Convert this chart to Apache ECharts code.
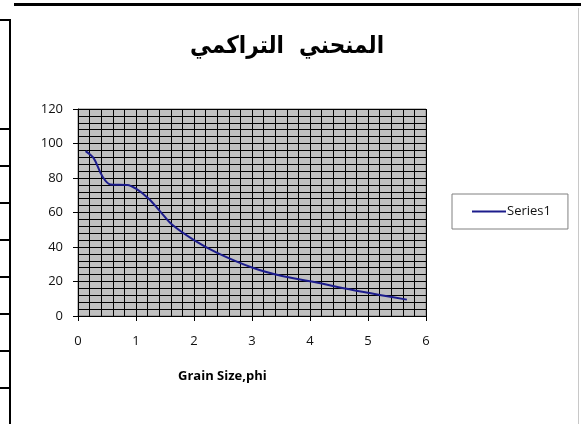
<!DOCTYPE html>
<html>
<head>
<meta charset="utf-8">
<script src="https://cdn.jsdelivr.net/npm/echarts@6/dist/echarts.min.js"></script>
<style>
  html, body { margin: 0; padding: 0; background: #fff; }
  #chart { width: 581px; height: 424px; }
</style>
</head>
<body>
<div id="chart"></div>
<script>
// Cumulative curve: grain size (phi) vs cumulative percent
const phi = [0.13, 0.27, 0.42, 0.56, 0.85, 1.0, 1.22, 1.42, 1.62, 2.0, 2.4, 3.0, 3.5, 4.0, 4.9, 5.67];
const cumulative = [95.6, 91.5, 81, 76.3, 76, 73.8, 68, 60.5, 53, 44, 36.6, 28.1, 23.3, 20.1, 14, 9.5];
const xTicks = [0, 1, 2, 3, 4, 5, 6];
const yTicks = [0, 20, 40, 60, 80, 100, 120];
const seriesName = 'Series1';
const chartTitle = 'المنحني  التراكمي';
const xAxisTitle = 'Grain Size,phi';

const points = phi.map((p, i) => [p, cumulative[i]]);

const chart = echarts.init(document.getElementById('chart'), null, { renderer: 'canvas' });

const labelFont = { fontFamily: 'Open Sans', fontSize: 13, color: '#111' };

chart.setOption({
  animation: false,
  backgroundColor: '#fff',
  title: {
    text: chartTitle,
    left: 282,
    textAlign: 'center',
    top: 30,
    textStyle: { fontFamily: 'DejaVu Sans Condensed, DejaVu Sans', fontSize: 24, fontWeight: 'bold', color: '#000' }
  },
  legend: {
    data: [seriesName],
    left: 452,
    top: 194,
    orient: 'vertical',
    padding: [11, 17, 11, 20],
    borderColor: '#808080',
    borderWidth: 1,
    itemWidth: 34,
    itemHeight: 2,
    itemGap: 0,
    icon: 'rect',
    textStyle: { fontFamily: 'Open Sans', fontSize: 13, color: '#111', padding: [0, 0, 0, -4] }
  },
  grid: {
    left: 78,
    right: 155,
    top: 109,
    bottom: 108,
    show: true,
    backgroundColor: '#c0c0c0',
    borderColor: '#808080',
    borderWidth: 1
  },
  xAxis: {
    type: 'value',
    min: xTicks[0],
    max: xTicks[xTicks.length - 1],
    interval: 1,
    axisLine: { show: true, onZero: false, lineStyle: { color: '#000', width: 1 } },
    axisTick: { show: true, length: 5, lineStyle: { color: '#000' } },
    axisLabel: Object.assign({ margin: 19 }, labelFont),
    splitLine: { show: true, lineStyle: { color: '#000', width: 1 } },
    minorTick: { show: false, splitNumber: 5 },
    minorSplitLine: { show: true, lineStyle: { color: '#000', width: 1 } }
  },
  yAxis: {
    type: 'value',
    min: yTicks[0],
    max: yTicks[yTicks.length - 1],
    interval: 20,
    axisLine: { show: true, lineStyle: { color: '#000', width: 1 } },
    axisTick: { show: true, length: 5, lineStyle: { color: '#000' } },
    axisLabel: Object.assign({ margin: 15 }, labelFont),
    splitLine: { show: true, lineStyle: { color: '#000', width: 1 } },
    minorTick: { show: false, splitNumber: 5 },
    minorSplitLine: { show: true, lineStyle: { color: '#000', width: 1 } }
  },
  series: [{
    name: seriesName,
    type: 'line',
    data: points,
    smooth: 0.35,
    symbol: 'none',
    lineStyle: { color: '#1c1c8c', width: 2 },
    itemStyle: { color: '#1c1c8c' }
  }],
  graphic: [
    {
      type: 'text',
      left: 178,
      top: 370,
      style: { text: xAxisTitle, fontFamily: 'Open Sans', fontSize: 13, fontWeight: 'bold', fill: '#000' }
    },
    // sheet frame around the chart
    { type: 'rect', shape: { x: 14, y: 3, width: 567, height: 3 }, style: { fill: '#000' } },
    { type: 'rect', shape: { x: 9, y: 19, width: 2, height: 405 }, style: { fill: '#000' } },
    { type: 'rect', shape: { x: 578, y: 8, width: 1, height: 416 }, style: { fill: '#c8c8c8' } },
    ...[20, 129, 166, 203, 240, 277, 314, 351, 388].map(y => ({
      type: 'rect', shape: { x: 0, y: y - 1, width: 10, height: 2 }, style: { fill: '#000' }
    }))
  ]
});
</script>
</body>
</html>
